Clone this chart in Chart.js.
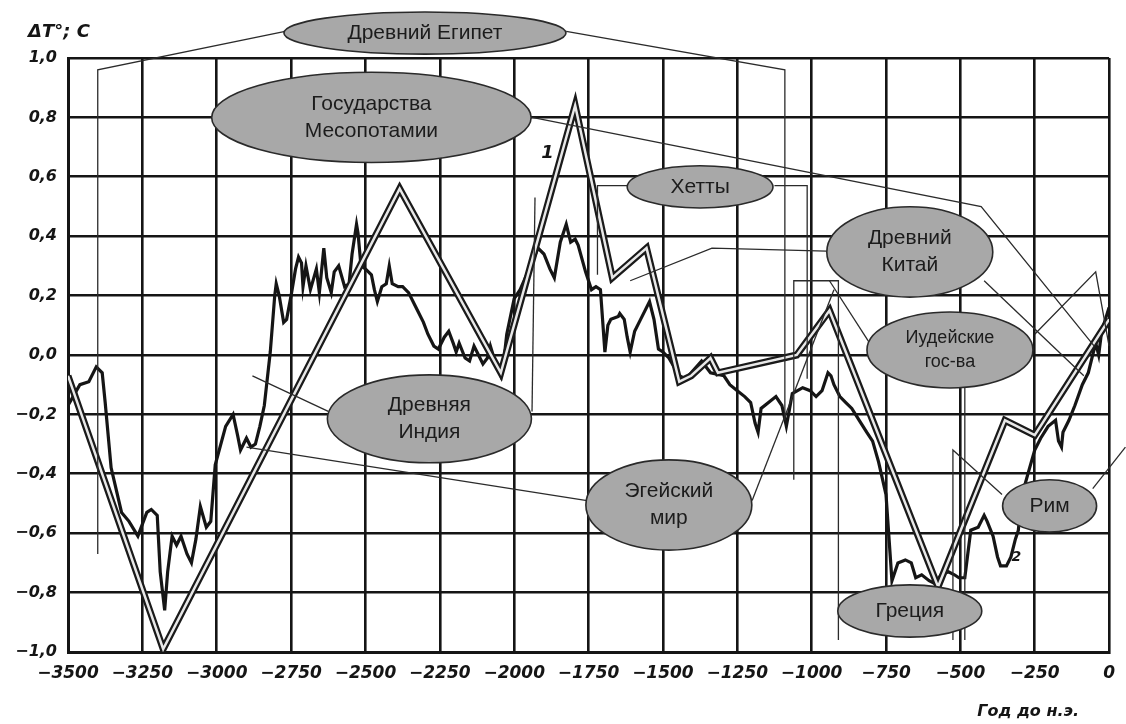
<!DOCTYPE html>
<html>
<head>
<meta charset="utf-8">
<script src="https://cdn.jsdelivr.net/npm/chart.js@4.4.0/dist/chart.umd.min.js"></script>
<style>
  html, body { margin: 0; padding: 0; background: #fff; }
  canvas { display: block; }
</style>
</head>
<body>
<canvas id="tempChart" width="1126" height="724"></canvas>
<script>
// Axis ticks
const yearTicks = [-3500, -3250, -3000, -2750, -2500, -2250, -2000, -1750, -1500, -1250, -1000, -750, -500, -250, 0];
const tempTicks = [-1.0, -0.8, -0.6, -0.4, -0.2, 0.0, 0.2, 0.4, 0.6, 0.8, 1.0];

// Curve 1 (double line, piecewise linear)
const curve1Years  = [-3500, -3180, -2385, -2045, -1795, -1670, -1555, -1445, -1405, -1340, -1315, -1050, -940, -575, -350, -250, 0];
const curve1Values = [-0.07, -0.99, 0.56, -0.06, 0.84, 0.26, 0.36, -0.09, -0.07, -0.01, -0.06, 0.00, 0.15, -0.78, -0.22, -0.27, 0.12];

// Curve 2 (noisy line)
const curve2Years = [
  -3500, -3460, -3430, -3405, -3385, -3375, -3355, -3320, -3295, -3265,
  -3235, -3220, -3200, -3190, -3175, -3165, -3150, -3135, -3120, -3100,
  -3085, -3070, -3055, -3035, -3020, -3005, -2970, -2945, -2930, -2920,
  -2900, -2885, -2870, -2855, -2840, -2820, -2805, -2800, -2790, -2775,
  -2765, -2750, -2735, -2725, -2715, -2710, -2700, -2685, -2665, -2655,
  -2640, -2630, -2615, -2605, -2590, -2570, -2555, -2545, -2530, -2525,
  -2515, -2500, -2480, -2470, -2460, -2445, -2430, -2420, -2410, -2390,
  -2375, -2355, -2330, -2305, -2290, -2270, -2255, -2235, -2220, -2205,
  -2195, -2185, -2165, -2150, -2135, -2125, -2105, -2090, -2080, -2065,
  -2045, -2035, -2025, -2000, -1980, -1945, -1920, -1900, -1880, -1865,
  -1845, -1825, -1810, -1795, -1785, -1760, -1740, -1725, -1710, -1695,
  -1685, -1675, -1650, -1645, -1630, -1620, -1610, -1595, -1575, -1545,
  -1530, -1515, -1500, -1480, -1445, -1425, -1405, -1370, -1340, -1295,
  -1275, -1250, -1225, -1205, -1190, -1180, -1170, -1145, -1120, -1100,
  -1085, -1065, -1030, -1005, -985, -965, -945, -935, -925, -905,
  -885, -865, -840, -815, -795, -775, -750, -730, -710, -685,
  -665, -650, -630, -605, -585, -565, -540, -520, -505, -485,
  -465, -440, -420, -410, -390, -375, -365, -345, -330, -315,
  -305, -295, -270, -250, -230, -205, -180, -170, -160, -155,
  -135, -115, -90, -70, -60, -45, -35, -25, 0
];
const curve2Values = [
  -0.17, -0.10, -0.09, -0.04, -0.06, -0.16, -0.38, -0.53, -0.56, -0.61,
  -0.53, -0.52, -0.54, -0.73, -0.86, -0.73, -0.61, -0.64, -0.61, -0.67,
  -0.70, -0.62, -0.51, -0.58, -0.56, -0.37, -0.24, -0.20, -0.27, -0.32,
  -0.28, -0.31, -0.30, -0.24, -0.17, 0.01, 0.20, 0.24, 0.20, 0.11,
  0.12, 0.20, 0.29, 0.33, 0.31, 0.23, 0.30, 0.22, 0.29, 0.21,
  0.36, 0.26, 0.21, 0.28, 0.30, 0.23, 0.24, 0.34, 0.44, 0.41,
  0.30, 0.29, 0.27, 0.22, 0.18, 0.23, 0.24, 0.30, 0.24, 0.23,
  0.23, 0.21, 0.16, 0.11, 0.07, 0.03, 0.02, 0.06, 0.08, 0.04,
  0.01, 0.04, -0.01, -0.02, 0.03, 0.01, -0.03, -0.01, 0.03, -0.02,
  -0.07, -0.02, 0.07, 0.19, 0.22, 0.30, 0.36, 0.34, 0.29, 0.26,
  0.38, 0.44, 0.38, 0.39, 0.37, 0.28, 0.22, 0.23, 0.22, 0.01,
  0.10, 0.12, 0.13, 0.14, 0.12, 0.06, 0.01, 0.08, 0.12, 0.18,
  0.12, 0.02, 0.01, -0.01, -0.07, -0.08, -0.06, -0.02, -0.06, -0.07,
  -0.10, -0.12, -0.14, -0.16, -0.23, -0.26, -0.18, -0.16, -0.14, -0.17,
  -0.24, -0.13, -0.11, -0.12, -0.14, -0.12, -0.06, -0.07, -0.10, -0.14,
  -0.16, -0.18, -0.22, -0.26, -0.29, -0.36, -0.47, -0.76, -0.70, -0.69,
  -0.70, -0.75, -0.74, -0.76, -0.77, -0.74, -0.73, -0.74, -0.75, -0.75,
  -0.59, -0.58, -0.54, -0.56, -0.61, -0.68, -0.71, -0.71, -0.68, -0.62,
  -0.59, -0.48, -0.39, -0.32, -0.28, -0.24, -0.22, -0.29, -0.31, -0.26,
  -0.22, -0.17, -0.10, -0.06, -0.02, 0.04, 0.00, 0.08, 0.16
];

// Civilisation callouts (ellipse centre and half sizes in chart units)
const calloutNames = [
  ['Древний Египет'], ['Государства', 'Месопотамии'], ['Хетты'],
  ['Древний', 'Китай'], ['Иудейские', 'гос-ва'], ['Древняя', 'Индия'],
  ['Эгейский', 'мир'], ['Греция'], ['Рим']
];
const calloutYears      = [-2300, -2480, -1375, -670, -535, -2285, -1480, -670, -200];
const calloutValues     = [1.084, 0.80, 0.566, 0.347, 0.017, -0.215, -0.505, -0.862, -0.508];
const calloutHalfYears  = [474, 537, 245, 279, 279, 343, 279, 242, 158];
const calloutHalfValues = [0.071, 0.152, 0.071, 0.152, 0.128, 0.148, 0.152, 0.088, 0.088];

// Leader lines from the callouts (year, value)
const leaderLines = [
  [[-2770, 1.09], [-3400, 0.96], [-3400, -0.67]],
  [[-1825, 1.09], [-1090, 0.96], [-1090, -0.22]],
  [[-1940, 0.80], [-430, 0.50], [-50, 0.03]],
  [[-1620, 0.57], [-1720, 0.57], [-1720, 0.27]],
  [[-1125, 0.57], [-1015, 0.57], [-1015, -0.08]],
  [[-950, 0.35], [-1335, 0.36], [-1610, 0.25]],
  [[-420, 0.25], [-85, -0.07]],
  [[-250, 0.07], [-45, 0.28], [0, 0.03]],
  [[-805, 0.04], [-940, 0.25]],
  [[-1060, -0.42], [-1060, 0.25], [-910, 0.25], [-910, -0.96]],
  [[-1200, -0.49], [-925, 0.22]],
  [[-1755, -0.49], [-2900, -0.31]],
  [[-2625, -0.19], [-2880, -0.07]],
  [[-1940, -0.19], [-1930, 0.53]],
  [[-360, -0.47], [-525, -0.32], [-525, -0.96]],
  [[-485, -0.11], [-485, -0.96]],
  [[-55, -0.45], [55, -0.31]]
];

const ink = '#151515';
const tickFont = { family: 'DejaVu Sans', size: 17, weight: 'bold', style: 'italic' };

function toPoints(xs, ys) {
  return xs.map((x, i) => ({ x: x, y: ys[i] }));
}

const calloutPlugin = {
  id: 'callouts',
  afterDatasetsDraw(chart) {
    const ctx = chart.ctx;
    const xs = chart.scales.x;
    const ys = chart.scales.y;
    ctx.save();

    // leader lines
    ctx.strokeStyle = '#2b2b2b';
    ctx.lineWidth = 1.3;
    leaderLines.forEach(pts => {
      ctx.beginPath();
      pts.forEach((p, i) => {
        const px = xs.getPixelForValue(p[0]);
        const py = ys.getPixelForValue(p[1]);
        if (i === 0) ctx.moveTo(px, py); else ctx.lineTo(px, py);
      });
      ctx.stroke();
    });

    // ellipses with text
    calloutNames.forEach((lines, i) => {
      const cx = xs.getPixelForValue(calloutYears[i]);
      const cy = ys.getPixelForValue(calloutValues[i]);
      const rx = Math.abs(xs.getPixelForValue(calloutYears[i] + calloutHalfYears[i]) - cx);
      const ry = Math.abs(ys.getPixelForValue(calloutValues[i] + calloutHalfValues[i]) - cy);
      ctx.beginPath();
      ctx.ellipse(cx, cy, rx, ry, 0, 0, Math.PI * 2);
      ctx.fillStyle = '#a8a8a8';
      ctx.fill();
      ctx.lineWidth = 1.6;
      ctx.strokeStyle = '#2a2a2a';
      ctx.stroke();

      const size = lines[0] === 'Иудейские' ? 18 : 21;
      const lh = size * 1.3;
      ctx.font = size + 'px "Liberation Sans", Arial, sans-serif';
      ctx.fillStyle = '#1c1c1c';
      ctx.textAlign = 'center';
      ctx.textBaseline = 'middle';
      lines.forEach((t, k) => {
        ctx.fillText(t, cx, cy + (k - (lines.length - 1) / 2) * lh);
      });
    });

    // curve labels
    ctx.font = 'italic bold 18px "DejaVu Sans", sans-serif';
    ctx.fillStyle = ink;
    ctx.fillText('1', xs.getPixelForValue(-1888), ys.getPixelForValue(0.68));
    ctx.font = 'italic bold 14px "DejaVu Sans", sans-serif';
    ctx.fillText('2', xs.getPixelForValue(-312), ys.getPixelForValue(-0.68));

    // axis titles
    const area = chart.chartArea;
    ctx.font = 'italic bold 18px "DejaVu Sans", sans-serif';
    ctx.textAlign = 'left';
    ctx.fillText('ΔT°; C', area.left - 40, area.top - 26);
    ctx.font = 'italic bold 16px "DejaVu Sans", sans-serif';
    ctx.textAlign = 'right';
    ctx.fillText('Год до н.э.', area.right - 30, area.bottom + 60);
    ctx.restore();
  }
};

const ctx = document.getElementById('tempChart').getContext('2d');
const tempChart = new Chart(ctx, {
  type: 'line',
  data: {
    datasets: [
      {
        label: '2',
        data: toPoints(curve2Years, curve2Values),
        borderColor: ink,
        borderWidth: 3.2,
        pointRadius: 0,
        tension: 0,
        order: 3
      },
      {
        label: '1 outline',
        data: toPoints(curve1Years, curve1Values),
        borderColor: '#1a1a1a',
        borderWidth: 7,
        pointRadius: 0,
        tension: 0,
        borderJoinStyle: 'miter',
        order: 2
      },
      {
        label: '1',
        data: toPoints(curve1Years, curve1Values),
        borderColor: '#e8e8e8',
        borderWidth: 2.5,
        pointRadius: 0,
        tension: 0,
        borderJoinStyle: 'miter',
        order: 1
      }
    ]
  },
  options: {
    responsive: false,
    animation: false,
    devicePixelRatio: 1,
    layout: { padding: { top: 58, right: 16, bottom: 0, left: 0 } },
    plugins: {
      legend: { display: false },
      tooltip: { enabled: false }
    },
    scales: {
      x: {
        type: 'linear',
        min: -3500,
        max: 0,
        afterBuildTicks: scale => { scale.ticks = yearTicks.map(v => ({ value: v })); },
        afterFit: scale => { scale.height = 72; },
        grid: { color: ink, lineWidth: 2.6, drawTicks: false },
        border: { color: ink, width: 3 },
        ticks: {
          padding: 11,
          color: ink,
          font: tickFont,
          maxRotation: 0,
          autoSkip: false,
          callback: v => (v < 0 ? '−' + Math.abs(v) : '0')
        }
      },
      y: {
        min: -1,
        max: 1,
        afterBuildTicks: scale => { scale.ticks = tempTicks.map(v => ({ value: v })); },
        afterFit: scale => { scale.width = 68; },
        grid: { color: ink, lineWidth: 2.6, drawTicks: false },
        border: { color: ink, width: 3 },
        ticks: {
          padding: 11,
          color: ink,
          font: { family: 'DejaVu Sans', size: 16, weight: 'bold', style: 'italic' },
          autoSkip: false,
          callback: v => {
            const s = Math.abs(v).toFixed(1).replace('.', ',');
            return v < -1e-9 ? '−' + s : s;
          }
        }
      }
    }
  },
  plugins: [calloutPlugin]
});
</script>
</body>
</html>
